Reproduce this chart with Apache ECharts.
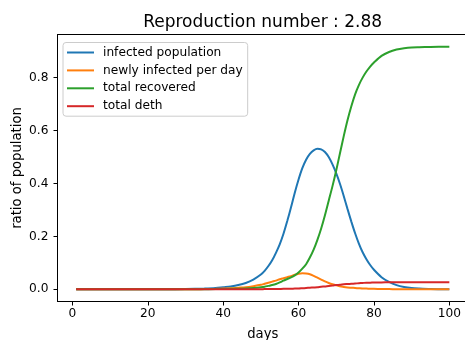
<!DOCTYPE html>
<html>
<head>
<meta charset="utf-8">
<script src="https://cdn.jsdelivr.net/npm/echarts@6/dist/echarts.min.js"></script>
<style>
html,body{margin:0;padding:0;background:#fff;}
#chart{width:465px;height:340px;}
</style>
</head>
<body>
<div id="chart"></div>
<script>
var days = [1, 5, 10, 15, 20, 25, 30, 35, 38, 40, 42, 44, 46, 48, 50,
    51, 52, 53, 54, 55, 56, 57, 58, 59, 60, 61, 62, 63, 64, 65,
    66, 67, 68, 69, 70, 71, 72, 73, 74, 75, 76, 77, 78, 79, 80,
    82, 84, 86, 88, 90, 92, 95, 100];
var infected = [0, 0, 0, 0, 0, 0.0005, 0.001, 0.003, 0.005, 0.008, 0.011, 0.016, 0.024, 0.037, 0.056,
    0.07, 0.088, 0.11, 0.138, 0.17, 0.21, 0.258, 0.31, 0.365, 0.415, 0.458, 0.49, 0.512, 0.525, 0.531,
    0.529, 0.519, 0.5, 0.472, 0.438, 0.398, 0.352, 0.303, 0.256, 0.212, 0.173, 0.14, 0.114, 0.092, 0.074,
    0.046, 0.028, 0.016, 0.009, 0.005, 0.003, 0.001, 0];
var newlyInfected = [0, 0, 0, 0, 0, 0, 0, 0.001, 0.002, 0.003, 0.004, 0.006, 0.008, 0.012, 0.017,
    0.021, 0.025, 0.029, 0.033, 0.038, 0.042, 0.046, 0.05, 0.055, 0.059, 0.061, 0.06, 0.057, 0.051, 0.044,
    0.037, 0.03, 0.024, 0.019, 0.015, 0.012, 0.009, 0.007, 0.006, 0.005, 0.004, 0.003, 0.003, 0.002, 0.002,
    0.001, 0.001, 0, 0, 0, 0, 0, 0];
var recovered = [0, 0, 0, 0, 0, 0, 0, 0.0005, 0.001, 0.001, 0.002, 0.002, 0.003, 0.005, 0.008,
    0.01, 0.013, 0.016, 0.02, 0.026, 0.033, 0.039, 0.045, 0.053, 0.064, 0.078, 0.095, 0.12, 0.15, 0.187,
    0.23, 0.28, 0.335, 0.39, 0.45, 0.515, 0.58, 0.64, 0.692, 0.737, 0.772, 0.8, 0.823, 0.842, 0.857,
    0.882, 0.897, 0.906, 0.911, 0.914, 0.915, 0.916, 0.917];
var deaths = [0, 0, 0, 0, 0, 0, 0, 0, 0, 0, 0, 0, 0, 0.0005, 0.0005,
    0.001, 0.001, 0.001, 0.001, 0.0015, 0.002, 0.002, 0.002, 0.003, 0.003, 0.004, 0.005, 0.006, 0.007, 0.008,
    0.01, 0.011, 0.013, 0.014, 0.016, 0.017, 0.019, 0.02, 0.021, 0.022, 0.023, 0.024, 0.025, 0.025, 0.026,
    0.026, 0.027, 0.027, 0.027, 0.027, 0.027, 0.027, 0.027];
var seriesNames = ['infected population', 'newly infected per day', 'total recovered', 'total deth'];
var xTicks = [0, 20, 40, 60, 80, 100];
var yTicks = [0, 0.2, 0.4, 0.6, 0.8];

var colors = ['#1f77b4', '#ff7f0e', '#2ca02c', '#d62728'];
var font = 'DejaVu Sans';

function pairs(vals) {
    return days.map(function (d, i) { return [d, vals[i]]; });
}

var chart = echarts.init(document.getElementById('chart'));
var option = {
    animation: false,
    color: colors,
    title: {
        text: 'Reproduction number : 2.88',
        left: 262.6,
        top: 14,
        padding: 0,
        textAlign: 'center',
        textStyle: { fontFamily: font, fontSize: 17, fontWeight: 'normal', color: '#000' }
    },
    legend: {
        orient: 'vertical',
        left: 63,
        top: 42.5,
        padding: [3, 5, 3, 4],
        icon: 'rect',
        itemWidth: 27,
        itemHeight: 2,
        itemGap: 3.9,
        backgroundColor: 'rgba(255,255,255,0.8)',
        borderColor: '#cccccc',
        borderWidth: 1,
        borderRadius: 3,
        data: seriesNames,
        textStyle: { fontFamily: font, fontSize: 12.2, lineHeight: 14, color: '#000', padding: [0, 0, 0, 4] }
    },
    grid: {
        left: 57.5,
        top: 34.5,
        right: -3,
        bottom: 38.5,
        outerBoundsMode: 'none',
        show: true,
        borderColor: '#000',
        borderWidth: 1
    },
    xAxis: {
        type: 'value',
        min: -3.95,
        max: 104.95,
        name: 'days',
        nameLocation: 'middle',
        nameGap: 27,
        nameMoveOverlap: false,
        nameTextStyle: { fontFamily: font, fontSize: 13.2, color: '#000' },
        axisLine: { onZero: false, lineStyle: { color: '#000', width: 1 } },
        axisTick: { length: 4, customValues: xTicks, lineStyle: { color: '#000' } },
        axisLabel: { customValues: xTicks, margin: 6, fontFamily: font, fontSize: 12.2, color: '#000' },
        splitLine: { show: false }
    },
    yAxis: {
        type: 'value',
        min: -0.046,
        max: 0.963,
        name: 'ratio of population',
        nameLocation: 'middle',
        nameGap: 33,
        nameMoveOverlap: false,
        nameTextStyle: { fontFamily: font, fontSize: 13.2, color: '#000' },
        axisLine: { onZero: false, lineStyle: { color: '#000', width: 1 } },
        axisTick: { length: 4, customValues: yTicks, lineStyle: { color: '#000' } },
        axisLabel: {
            customValues: yTicks, margin: 9, fontFamily: font, fontSize: 12.2, color: '#000',
            formatter: function (v) { return v.toFixed(1); }
        },
        splitLine: { show: false }
    },
    series: [infected, newlyInfected, recovered, deaths].map(function (vals, i) {
        return {
            name: seriesNames[i],
            type: 'line',
            data: pairs(vals),
            symbol: 'none',
            smooth: 0.3,
            lineStyle: { width: 2, color: colors[i] }
        };
    })
};
chart.setOption(option);
</script>
</body>
</html>
